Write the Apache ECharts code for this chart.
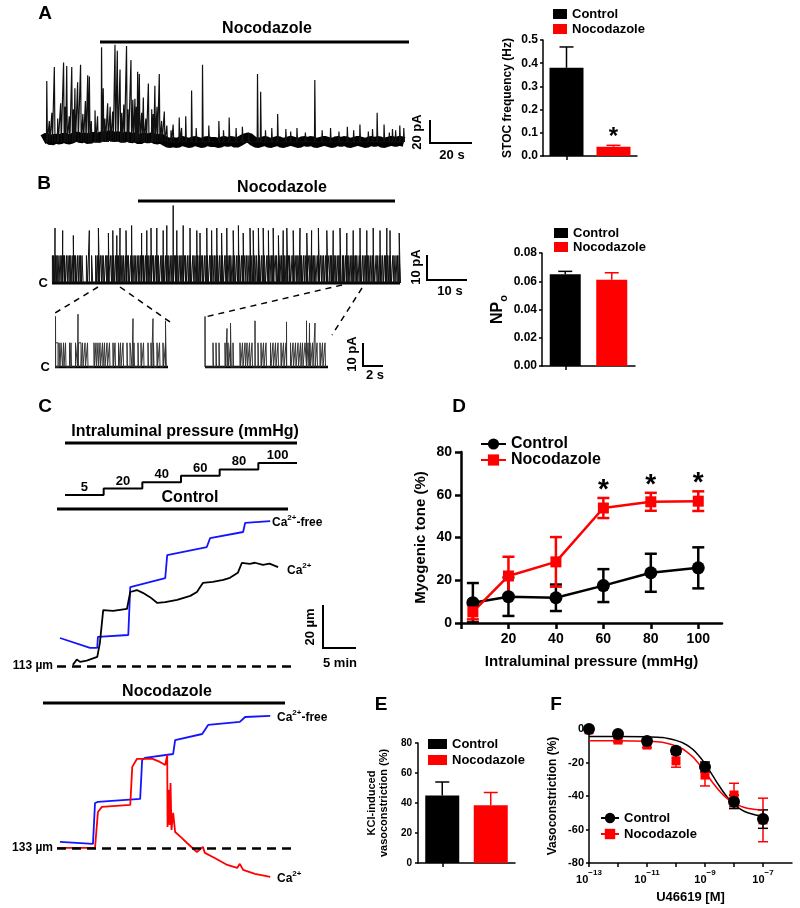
<!DOCTYPE html>
<html>
<head>
<meta charset="utf-8">
<script src="https://cdn.jsdelivr.net/npm/echarts/dist/echarts.min.js"></script>
<style>
html,body{margin:0;padding:0;background:#fff;}
#chart{width:800px;height:908px;}
</style>
</head>
<body>
<div id="chart"></div>
<script>
// ================= DATA =================
const groups = ['Control', 'Nocodazole'];

// ---- Panel A: STOC trace (time s, amplitude pA) ----
const aSpikes = [[1.8,52],[3,18],[4.2,25],[5.4,64],[7,20],[8.4,33],[9.8,68],[10.5,30],[11.3,65],[12.5,22],[13.7,64],[14.5,28],[15.2,46],[16.5,51],[17.9,66],[19,24],[20.2,35],[21.3,57],[22.1,56],[23,18],[24.8,27],[26,22],[27.9,81],[28.7,46],[29.5,20],[30.8,33],[32,30],[33.2,26],[34.3,83],[35.4,78],[36.7,62],[37.5,25],[38.5,32],[39.8,82],[40.5,28],[41.9,70],[42.8,36],[43.8,37],[44.5,30],[45.1,60],[45.9,58],[47,25],[47.8,38],[49,20],[50.2,50],[51.8,28],[52.5,24],[53.3,48],[54.3,30],[55.4,58],[56.5,18],[57.8,26],[59,14],[61,10],[62,15],[64.9,21],[66,12],[68,22],[70.8,44],[73,12],[76.0,66],[79,14],[83.8,18],[86,10],[88.7,21],[92,12],[95,13],[98,8],[102.2,58],[103.7,43],[106,10],[109,12],[111.8,24],[115.7,11],[118,9],[121,12],[125,8],[129.5,53],[133,10],[137,12],[141,9],[145,13],[148,10],[151,15],[155,9],[157,11],[159.2,25],[162.5,15],[165,8],[166.5,11],[168,10],[170,14],[171.9,12]];
const aBaseline = [[0,2],[2,4],[4,1],[6,3],[8,2],[10,4],[12,2],[14,3],[16,5],[18,3],[20,4],[22,2],[24,5],[26,3],[28,5],[30,4],[32,6],[34,4],[36,5],[38,3],[40,5],[42,3],[44,4],[46,2],[48,4],[50,3],[52,4],[54,2],[56,3],[58,1],[60,-1],[62,0],[64,-1],[66,1],[68,0],[70,-1],[72,1],[74,0],[76,-1],[78,1],[80,0],[82,0],[84,-1],[86,1],[88,0],[90,1],[92,-1],[94,1],[96,3],[98,4],[100,1],[102,-1],[104,0],[106,1],[108,-1],[110,0],[112,1],[114,-1],[116,0],[118,1],[120,0],[122,-1],[124,1],[126,0],[128,1],[130,-1],[132,0],[134,1],[136,0],[138,-1],[140,1],[142,0],[144,1],[146,-1],[148,0],[150,1],[152,0],[154,-1],[156,1],[158,0],[160,1],[162,-1],[164,0],[166,1],[168,0],[170,1],[172,0]];
// Panel A bar: STOC frequency (Hz)
const stocFreq = [0.38, 0.04];
const stocSem = [0.09, 0.006];
const stocSig = [false, true];

// ---- Panel B: single-channel traces ----
const bOpenLevel = 11; // pA
const bOpen = [0.1,0.4,0.9,1.2,1.5,2.0,2.3,2.9,3.1,3.6,4.0,4.4,4.7,5.2,5.6,5.9,6.4,6.8,7.1,7.5,8.6,9.9,10.9,11.3,11.6,12.1,12.5,12.8,13.4,13.7,14.0,14.6,15.0,15.4,15.9,16.3,16.6,17.2,17.5,17.9,18.4,18.8,19.1,19.7,20.0,20.5,20.8,21.3,21.7,22.1,22.6,22.9,23.4,23.8,24.2,24.6,25.1,25.4,25.9,26.3,26.6,27.2,27.5,27.9,28.4,28.8,29.2,29.7,30.0,30.6,30.9,31.3,31.8,32.2,32.5,33.1,33.4,33.9,34.3,34.6,35.2,35.5,36.0,36.4,36.8,37.3,37.6,38.1,38.5,38.8,39.4,39.7,40.2,40.6,41.0,41.4,41.9,42.3,42.6,43.2,43.5,44.0,44.4,44.7,45.3,45.6,46.1,46.5,46.9,47.4,47.7,48.2,48.6,49.0,49.5,49.8,50.3,50.7,51.1,51.6,51.9,52.4,52.8,53.1,53.7,54.0,54.5,54.9,55.2,55.8,56.1,56.6,57.0,57.4,57.9,58.2,58.7,59.1,59.4,60.0,60.3,60.8,61.2,61.5,62.1,62.4,62.9,63.3,63.7,64.2,64.5,65.0,65.4,65.7,66.3,66.6,67.1,67.5,67.9,68.4,68.7,69.2,69.6,69.9,70.5,70.8,71.3,71.7,72.0,72.6,72.9,73.4,73.8,74.2,74.7,75.0,75.5,75.9,76.2,76.8,77.1,77.6,78.0,78.4,78.9,79.2,79.7,80.1,80.4,81.0,81.3,81.8,82.2,82.6,83.1,83.4,83.9,84.3,84.6,85.2,85.5,86.0,86.4,86.8];
const bSpikes = [[0.75,22],[2.67,21],[5.33,19],[9.33,21],[11.6,22],[14.1,20],[15.2,21],[16.2,19],[17,22],[18.5,21],[19.9,23],[22.4,20],[23.7,21],[24.75,22],[26.2,22],[27.8,21],[28.7,23],[30.3,31],[31.2,21],[32.8,23],[34.5,22],[36.2,21],[37,20],[38.7,22],[39.9,21],[41.2,22],[42.4,20],[43.7,22],[45.3,21],[46.6,23],[47.8,20],[49.5,22],[50.3,21],[51.6,22],[52.8,22],[54.1,21],[55.3,22],[56.6,19],[57.8,21],[58.7,22],[60.3,21],[62,22],[63.7,20],[64.9,21],[66.6,22],[68.7,21],[70.3,21],[72,22],[73.7,20],[75.3,21],[77,22],[78.7,21],[80.3,22],[82,21],[83.7,22],[84.5,21],[86.8,20]];
// expanded segments: [start s, duration s]
const bZoomLeftOpen = [[0.05,0.25],[0.4,0.1],[0.6,0.15],[0.85,0.05],[1.05,0.05],[1.45,0.05],[1.6,0.05],[2.05,0.2],[2.35,0.25],[2.75,0.05],[3.0,0.05],[3.25,0.05],[3.9,0.05],[4.1,0.05],[4.3,0.05],[4.5,0.05],[4.75,0.05],[4.95,0.05],[5.2,0.05],[5.45,0.05],[5.8,0.05],[6.0,0.05],[6.35,0.05],[6.55,0.05],[6.8,0.05],[7.2,0.05],[7.5,0.2],[7.9,0.05],[8.3,0.05],[8.6,0.05],[8.85,0.05],[9.3,0.05],[9.6,0.05],[9.85,0.05],[10.2,0.05],[10.45,0.05],[10.8,0.05],[11.05,0.05]];
const bZoomLeftSpikes = [[0.05,23],[2.3,24],[7.8,22],[9.8,22],[11.05,21]];
const bZoomRightOpen = [[0.8,0.05],[1.1,0.05],[1.4,0.05],[2.0,0.05],[2.3,0.05],[2.55,0.05],[2.8,0.05],[3.5,0.05],[3.75,0.05],[4.0,0.05],[4.2,0.05],[4.45,0.05],[4.7,0.05],[5.3,0.05],[5.6,0.05],[5.85,0.05],[6.1,0.05],[6.55,0.05],[6.8,0.05],[7.05,0.05],[7.3,0.05],[7.6,0.05],[7.85,0.05],[8.1,0.05],[8.55,0.05],[8.8,0.05],[9.05,0.05],[9.3,0.05],[9.55,0.05],[9.75,0.05],[10.0,0.15],[10.3,0.1],[10.5,0.05],[10.75,0.05],[11.2,0.05],[11.5,0.05],[11.75,0.05],[12.0,0.05]];
const bZoomRightSpikes = [[0.0,23],[2.2,17.5],[2.55,20],[5.0,21],[8.15,20.5],[10.15,21],[10.45,20],[11.0,20]];
// Panel B bar: NPo
const npo = [0.065, 0.061];
const npoSem = [0.002, 0.005];

// ---- Panel C: diameter traces [time min, diameter µm] ----
const pressureSteps = [5, 20, 40, 60, 80, 100];
const cCtrlBase = 113;
const cNocBase = 133;
const cCtrlFree = [[0.45,126],[5.0,121.4],[6.1,121.4],[6.2,126.5],[10.8,127.4],[11.1,149.7],[16.4,153.9],[16.7,164.6],[22.7,168.3],[23.2,172.5],[28.2,175.3],[28.5,179.5],[32.3,180.4]];
const cCtrlCa = [[2.4,113.5],[3.0,116],[3.5,114.9],[4.5,115.5],[6.1,117.2],[6.5,123.7],[7.0,139],[8.5,138.6],[10.6,139.5],[11.1,147.4],[12.1,148.3],[13.0,147],[14.1,145],[15.2,142.3],[16.4,142.7],[18.2,143.7],[20.2,145.6],[21.2,147.4],[22.1,151.6],[23.6,152.1],[25.2,153],[26.2,154],[27.4,156.3],[28.0,160.9],[29.2,160.5],[30.0,161],[31.2,160],[32.2,160.6],[33.5,159]];
const cNocFree = [[0.45,135.8],[5.45,134.9],[5.76,153.9],[6.2,154.4],[12.6,155.8],[12.9,173.9],[13.3,174.9],[17.6,176.7],[17.9,183.2],[22.0,186],[22.9,190.2],[27.7,191.6],[28.5,193.9],[32.3,194.4]];
const cNocCa = [[0,133],[5.76,133],[6.2,149.7],[6.8,152.1],[11.1,153],[11.4,170.7],[12.1,174.4],[14.5,174.4],[15.6,173],[16.4,171.6],[16.7,176.3],[16.75,142.8],[16.9,160],[17.05,143.7],[17.2,163.2],[17.35,141.4],[17.6,149.3],[17.9,140.4],[18.2,140],[18.9,137.7],[19.7,135.3],[21.2,131.1],[22.1,133.5],[22.4,130.7],[23.9,128.3],[25.8,125.1],[27.3,123.7],[27.7,125.6],[28.2,122.8],[30.0,120.9],[32.3,119.5]];

// ---- Panel D: myogenic tone (%) ----
const pressureX = [5, 20, 40, 60, 80, 100];
const toneCtrl = [9.5, 12.3, 11.8, 17.5, 23.5, 25.8];
const toneCtrlSem = [9.2, 9.0, 6.2, 7.7, 8.9, 9.6];
const toneNoc = [5.2, 22.0, 28.6, 53.8, 56.7, 57.0];
const toneNocSem = [3.5, 9.0, 11.6, 4.7, 4.2, 4.6];
const toneSig = [false, false, false, true, true, true];

// ---- Panel E: KCl-induced vasoconstriction (%) ----
const kcl = [45, 38.5];
const kclSem = [9, 8.5];

// ---- Panel F: U46619 concentration-response ----
const logU = [-13, -12, -11, -10, -9, -8, -7];
const vcCtrl = [0, -3, -7.2, -13, -22.7, -43.5, -53.8];
const vcCtrlSem = [0.8, 1, 1.5, 2, 3, 4, 5.5];
const vcNoc = [-0.5, -6.6, -9.6, -19, -27.5, -39.4, -54.3];
const vcNocSem = [1, 1.2, 1.5, 3.8, 6.5, 7, 13];
const fitLogU = [-13, -12, -11, -10, -9.5, -9.25, -9, -8.75, -8.5, -8.25, -8, -7.75, -7.5, -7];
const fitCtrl = [-4.5, -4.5, -4.7, -6.8, -11.1, -15.2, -20.7, -27.4, -34.2, -40.3, -44.9, -48.1, -50.1, -52.1];
const fitNoc = [-7, -7, -7.3, -10.1, -15.4, -20, -25.6, -31.6, -37, -41.3, -44.3, -46.2, -47.4, -48.5];

// ================= HELPERS =================
const FONT = '"Liberation Sans", Arial, Helvetica, sans-serif';
const RED = '#ff0000';
const BLUE = '#1414ff';

function spikePath(spikes, pre, post) {
  const s = spikes.slice().sort((a, b) => a[0] - b[0]);
  const out = [];
  s.forEach(([t, a]) => { out.push([t - pre, 0], [t, a], [t + post, 0]); });
  return out;
}
function channelPath(opens, defDur, level, spikes) {
  const ev = [];
  opens.forEach(o => {
    const t = Array.isArray(o) ? o[0] : o;
    const d = Array.isArray(o) ? o[1] : defDur;
    ev.push({t, pts: [[t, 0], [t, level], [t + d, level], [t + d, 0]]});
  });
  spikes.forEach(([t, a]) => ev.push({t, pts: [[t, 0], [t, a], [t + 0.02, 0]]}));
  ev.sort((a, b) => a.t - b.t);
  const out = [];
  ev.forEach(e => out.push(...e.pts));
  return out;
}
function hiddenAxis(g, min, max) { return {gridIndex: g, type: 'value', min, max, show: false}; }
function axStyle(lw, fs, tickLen, margin) {
  return {
    axisLine: {show: true, onZero: false, lineStyle: {color: '#000', width: lw}},
    axisTick: {show: true, length: tickLen, lineStyle: {color: '#000', width: lw}},
    axisLabel: {color: '#000', fontWeight: 'bold', fontSize: fs, fontFamily: FONT, margin: margin},
    splitLine: {show: false}
  };
}
function catAxis(g, lw) {
  return {gridIndex: g, type: 'category', data: groups,
    axisLine: {show: true, lineStyle: {color: '#000', width: lw}},
    axisTick: {show: true, alignWithLabel: true, length: 4, lineStyle: {color: '#000', width: lw}},
    axisLabel: {show: false}, splitLine: {show: false}};
}
function errSeries(g, data, color, cap, lw, both) {
  return {
    type: 'custom', xAxisIndex: g, yAxisIndex: g, data, silent: true, z: 3,
    renderItem: (params, api) => {
      const x = api.value(0), lo = api.value(1), hi = api.value(2);
      const pt = api.coord([x, hi]), pb = api.coord([x, lo]);
      const st = {stroke: color, lineWidth: lw};
      const ch = [
        {type: 'line', shape: {x1: pt[0], y1: pt[1], x2: pb[0], y2: pb[1]}, style: st},
        {type: 'line', shape: {x1: pt[0] - cap, y1: pt[1], x2: pt[0] + cap, y2: pt[1]}, style: st}
      ];
      if (both) ch.push({type: 'line', shape: {x1: pb[0] - cap, y1: pb[1], x2: pb[0] + cap, y2: pb[1]}, style: st});
      return {type: 'group', children: ch};
    }
  };
}
function barPair(g, prefix, vals, sems, bw) {
  const cols = ['#000', RED];
  const s = [];
  groups.forEach((name, i) => {
    s.push({type: 'bar', name: prefix + name, xAxisIndex: g, yAxisIndex: g,
      data: groups.map((_, j) => j === i ? vals[i] : '-'),
      barWidth: bw, barGap: '-100%', itemStyle: {color: cols[i], opacity: 1}, silent: true});
  });
  groups.forEach((name, i) => {
    s.push(errSeries(g, [[i, vals[i], vals[i] + sems[i]]], cols[i], 7, 1.5, false));
  });
  return s;
}
function txt(x, y, text, size, align, rot) {
  return {type: 'text', x, y, rotation: rot || 0, silent: true,
    style: {text, fill: '#000', fontSize: size, fontWeight: 'bold', fontFamily: FONT,
      textAlign: align || 'center', textVerticalAlign: 'middle'}};
}
function hline(x1, y1, x2, y2, w, dash) {
  return {type: 'line', silent: true, shape: {x1, y1, x2, y2},
    style: {stroke: '#000', lineWidth: w, lineDash: dash || null}};
}
function poly(points, w) {
  return {type: 'polyline', silent: true, shape: {points}, style: {stroke: '#000', lineWidth: w, fill: null}};
}
const caRich = {
  b: {fontSize: 12, fontWeight: 'bold', fontFamily: FONT, lineHeight: 15, verticalAlign: 'bottom'},
  s: {fontSize: 8, fontWeight: 'bold', fontFamily: FONT, lineHeight: 9, verticalAlign: 'top'}
};
function caTxt(x, y, text) {
  return {type: 'text', x, y, silent: true,
    style: {text, rich: caRich, fill: '#000', textAlign: 'left', textVerticalAlign: 'middle'}};
}
const legendFmt = n => n.slice(2);
function legend(names, left, top, iw, ih, gap, fs) {
  return {data: names, left, top, orient: 'vertical', itemWidth: iw, itemHeight: ih, itemGap: gap,
    padding: 0, selectedMode: false, formatter: legendFmt,
    textStyle: {fontSize: fs, fontWeight: 'bold', color: '#000', fontFamily: FONT}};
}
const starLabel = (fs, dist) => ({show: true, position: 'top', distance: dist, formatter: '*',
  fontSize: fs, fontWeight: 'bold', color: '#000', opacity: 1, fontFamily: FONT});

// ================= GRIDS =================
const G = (left, top, width, height) => ({left, top, width, height, containLabel: false, outerBoundsMode: 'none'});
const grids = [
  G(43, 39, 361, 110),      // 0 A trace
  G(543, 40, 94, 116),      // 1 A bars
  G(52, 200.5, 348, 87.5),  // 2 B trace
  G(55, 312, 113, 59.4),    // 3 B zoom left
  G(205, 312, 123, 59.4),   // 4 B zoom right
  G(542, 253, 93, 113),     // 5 B bars
  G(65, 463, 232, 32),      // 6 C staircase
  G(57, 509, 237.6, 163.4), // 7 C control trace
  G(57, 712.5, 237.6, 169.85), // 8 C nocodazole trace
  G(461, 452, 261, 171),    // 9 D
  G(418, 743, 97, 120),     // 10 E
  G(589, 729, 203, 134)     // 11 F
];

const xAxes = [
  hiddenAxis(0, 0, 172),
  catAxis(1, 1.5),
  hiddenAxis(2, 0, 87),
  hiddenAxis(3, 0, 11.3),
  hiddenAxis(4, 0, 12.3),
  catAxis(5, 1.5),
  hiddenAxis(6, 0, pressureSteps.length),
  hiddenAxis(7, 0, 36),
  hiddenAxis(8, 0, 36),
  Object.assign({gridIndex: 9, type: 'value', min: 0, max: 110, interval: 20,
    name: 'Intraluminal pressure (mmHg)', nameLocation: 'middle', nameGap: 31,
    nameTextStyle: {fontSize: 15, fontWeight: 'bold', color: '#000', fontFamily: FONT}},
    axStyle(2.5, 14, 6, 9),
    {axisLabel: {color: '#000', fontWeight: 'bold', fontSize: 14, fontFamily: FONT, margin: 9, showMaxLabel: false,
      formatter: v => (v === 0 || v > 100) ? '' : String(v)}}),
  catAxis(10, 1.5),
  Object.assign({gridIndex: 11, type: 'value', min: -13, max: -6, interval: 1,
    name: 'U46619 [M]', nameLocation: 'middle', nameGap: 28,
    nameTextStyle: {fontSize: 13, fontWeight: 'bold', color: '#000', fontFamily: FONT}},
    axStyle(1.5, 11, 4, 6),
    {axisLabel: {margin: 6, showMaxLabel: false,
      formatter: v => (Math.abs(v) % 2 === 1) ? '{b|10}{s|\u2212' + Math.abs(v) + '}' : '',
      rich: {b: {fontSize: 11, fontWeight: 'bold', fontFamily: FONT, color: '#000', lineHeight: 16, verticalAlign: 'bottom'},
             s: {fontSize: 8, fontWeight: 'bold', fontFamily: FONT, color: '#000', lineHeight: 8, verticalAlign: 'top'}}}})
];

const yAxes = [
  hiddenAxis(0, -6, 88),
  Object.assign({gridIndex: 1, type: 'value', min: 0, max: 0.5, interval: 0.1,
    name: 'STOC frequency (Hz)', nameLocation: 'middle', nameGap: 29,
    nameTextStyle: {fontSize: 12, fontWeight: 'bold', color: '#000', fontFamily: FONT}},
    axStyle(1.5, 12, 3, 5), {axisLabel: {color: '#000', fontWeight: 'bold', fontSize: 12, fontFamily: FONT, margin: 5, formatter: v => v.toFixed(1)}}),
  hiddenAxis(2, -2, 33),
  hiddenAxis(3, -2, 25),
  hiddenAxis(4, -2, 25),
  Object.assign({gridIndex: 5, type: 'value', min: 0, max: 0.08, interval: 0.02,
    name: '{b|NP}{sub|o}', nameLocation: 'middle', nameGap: 30,
    nameTextStyle: {rich: {b: {fontSize: 16, fontWeight: 'bold', fontFamily: FONT, color: '#000', lineHeight: 20, verticalAlign: 'top'},
                           sub: {fontSize: 11, fontWeight: 'bold', fontFamily: FONT, color: '#000', lineHeight: 10, verticalAlign: 'bottom'}}}},
    axStyle(1.5, 12, 3, 5), {axisLabel: {color: '#000', fontWeight: 'bold', fontSize: 12, fontFamily: FONT, margin: 5, formatter: v => v.toFixed(2)}}),
  hiddenAxis(6, 0, pressureSteps.length - 1),
  hiddenAxis(7, 110, 186),
  hiddenAxis(8, 117, 196),
  Object.assign({gridIndex: 9, type: 'value', min: 0, max: 80, interval: 20,
    name: 'Myogenic tone (%)', nameLocation: 'middle', nameGap: 33,
    nameTextStyle: {fontSize: 15, fontWeight: 'bold', color: '#000', fontFamily: FONT}},
    axStyle(2.5, 14, 6, 9)),
  Object.assign({gridIndex: 10, type: 'value', min: 0, max: 80, interval: 20,
    name: 'KCl-induced\nvasoconstriction (%)', nameLocation: 'middle', nameGap: 28,
    nameTextStyle: {fontSize: 11, fontWeight: 'bold', color: '#000', fontFamily: FONT, lineHeight: 12}},
    axStyle(1.5, 10, 3, 6)),
  Object.assign({gridIndex: 11, type: 'value', min: -80, max: 0, interval: 20,
    name: 'Vasoconstriction (%)', nameLocation: 'middle', nameGap: 30,
    nameTextStyle: {fontSize: 12, fontWeight: 'bold', color: '#000', fontFamily: FONT}},
    axStyle(1.5, 11, 3, 5))
];

// ================= SERIES =================
const series = [];
const lineBase = {type: 'line', showSymbol: false, symbol: 'none', silent: true, clip: false, animation: false};

// A trace
series.push(Object.assign({}, lineBase, {xAxisIndex: 0, yAxisIndex: 0, data: aBaseline, lineStyle: {width: 10, color: '#000'}}));
series.push(Object.assign({}, lineBase, {xAxisIndex: 0, yAxisIndex: 0, data: spikePath(aSpikes, 0.15, 0.3), lineStyle: {width: 1.2, color: '#111'}}));
// A bars
series.push(...barPair(1, 'A-', stocFreq, stocSem, 34));
series.push({type: 'scatter', xAxisIndex: 1, yAxisIndex: 1, symbolSize: 0, silent: true, itemStyle: {opacity: 1},
  data: stocFreq.map((v, i) => [i, v + stocSem[i]]).filter((_, i) => stocSig[i]),
  label: starLabel(24, -4)});

// B traces
series.push(Object.assign({}, lineBase, {xAxisIndex: 2, yAxisIndex: 2, data: [[0, 0], [87, 0]], lineStyle: {width: 3, color: '#000'}}));
series.push(Object.assign({}, lineBase, {xAxisIndex: 2, yAxisIndex: 2, data: channelPath(bOpen, 0.28, bOpenLevel, bSpikes), lineStyle: {width: 1, color: '#111'}}));
series.push(Object.assign({}, lineBase, {xAxisIndex: 3, yAxisIndex: 3, data: [[0, 0], [11.3, 0]], lineStyle: {width: 2.5, color: '#000'}}));
series.push(Object.assign({}, lineBase, {xAxisIndex: 3, yAxisIndex: 3, data: channelPath(bZoomLeftOpen, 0.05, bOpenLevel, bZoomLeftSpikes), lineStyle: {width: 1, color: '#333'}}));
series.push(Object.assign({}, lineBase, {xAxisIndex: 4, yAxisIndex: 4, data: [[0, 0], [12.3, 0]], lineStyle: {width: 2.5, color: '#000'}}));
series.push(Object.assign({}, lineBase, {xAxisIndex: 4, yAxisIndex: 4, data: channelPath(bZoomRightOpen, 0.05, bOpenLevel, bZoomRightSpikes), lineStyle: {width: 1, color: '#333'}}));
// B bars
series.push(...barPair(5, 'B-', npo, npoSem, 31));

// C staircase
series.push(Object.assign({}, lineBase, {xAxisIndex: 6, yAxisIndex: 6, step: 'end',
  data: pressureSteps.map((p, i) => [i, i]).concat([[pressureSteps.length, pressureSteps.length - 1]]),
  lineStyle: {width: 2, color: '#000'}}));
series.push({type: 'scatter', xAxisIndex: 6, yAxisIndex: 6, symbolSize: 0, silent: true, itemStyle: {opacity: 1},
  data: pressureSteps.map((p, i) => [i + 0.5, i, p]),
  label: {show: true, position: 'top', distance: 1, formatter: p => p.value[2], fontSize: 13, fontWeight: 'bold', color: '#000', fontFamily: FONT}});
// C traces
const baseMark = (v) => ({silent: true, symbol: 'none', animation: false,
  lineStyle: {type: [9, 6], width: 2.5, color: '#000'},
  label: {show: true, position: 'start', distance: 4, formatter: v + ' \u00b5m', fontSize: 12, fontWeight: 'bold', color: '#000', fontFamily: FONT},
  data: [{yAxis: v}]});
series.push(Object.assign({}, lineBase, {xAxisIndex: 7, yAxisIndex: 7, data: cCtrlFree, lineStyle: {width: 1.8, color: BLUE}}));
series.push(Object.assign({}, lineBase, {xAxisIndex: 7, yAxisIndex: 7, data: cCtrlCa, lineStyle: {width: 1.8, color: '#000'}, markLine: baseMark(cCtrlBase)}));
series.push(Object.assign({}, lineBase, {xAxisIndex: 8, yAxisIndex: 8, data: cNocFree, lineStyle: {width: 1.8, color: BLUE}, markLine: baseMark(cNocBase)}));
series.push(Object.assign({}, lineBase, {xAxisIndex: 8, yAxisIndex: 8, data: cNocCa, lineStyle: {width: 1.8, color: RED}}));

// D
series.push(errSeries(9, pressureX.map((x, i) => [x, toneCtrl[i] - toneCtrlSem[i], toneCtrl[i] + toneCtrlSem[i]]), '#000', 6, 2.5, true));
series.push(errSeries(9, pressureX.map((x, i) => [x, toneNoc[i] - toneNocSem[i], toneNoc[i] + toneNocSem[i]]), RED, 6, 2.5, true));
series.push({type: 'line', name: 'D-Control', xAxisIndex: 9, yAxisIndex: 9, data: pressureX.map((x, i) => [x, toneCtrl[i]]),
  symbol: 'circle', symbolSize: 13, color: '#000', lineStyle: {width: 2.5, color: '#000'}, itemStyle: {color: '#000', opacity: 1}, silent: true, clip: false, z: 4});
series.push({type: 'line', name: 'D-Nocodazole', xAxisIndex: 9, yAxisIndex: 9, data: pressureX.map((x, i) => [x, toneNoc[i]]),
  symbol: 'rect', symbolSize: 11, color: RED, lineStyle: {width: 2.5, color: RED}, itemStyle: {color: RED, opacity: 1}, silent: true, clip: false, z: 4});
series.push({type: 'scatter', xAxisIndex: 9, yAxisIndex: 9, symbolSize: 0, silent: true, itemStyle: {opacity: 1},
  data: pressureX.map((x, i) => [x, toneNoc[i] + toneNocSem[i]]).filter((_, i) => toneSig[i]),
  label: starLabel(28, -6)});

// E
series.push(...barPair(10, 'E-', kcl, kclSem, 34));

// F
series.push(errSeries(11, logU.map((x, i) => [x, vcNoc[i] - vcNocSem[i], vcNoc[i] + vcNocSem[i]]), RED, 5, 1.5, true));
series.push(errSeries(11, logU.map((x, i) => [x, vcCtrl[i] - vcCtrlSem[i], vcCtrl[i] + vcCtrlSem[i]]), '#000', 5, 1.5, true));
series.push({type: 'line', name: 'F-Control', xAxisIndex: 11, yAxisIndex: 11, data: fitLogU.map((x, i) => [x, fitCtrl[i]]),
  symbol: 'circle', showSymbol: false, smooth: true, color: '#000', lineStyle: {width: 1.5, color: '#000'}, itemStyle: {color: '#000', opacity: 1}, silent: true, clip: false});
series.push({type: 'line', name: 'F-Nocodazole', xAxisIndex: 11, yAxisIndex: 11, data: fitLogU.map((x, i) => [x, fitNoc[i]]),
  symbol: 'rect', showSymbol: false, smooth: true, color: RED, lineStyle: {width: 1.5, color: RED}, itemStyle: {color: RED, opacity: 1}, silent: true, clip: false});
series.push({type: 'scatter', xAxisIndex: 11, yAxisIndex: 11, data: logU.map((x, i) => [x, vcNoc[i]]),
  symbol: 'rect', symbolSize: 9, itemStyle: {color: RED, opacity: 1}, silent: true, clip: false, z: 4});
series.push({type: 'scatter', xAxisIndex: 11, yAxisIndex: 11, data: logU.map((x, i) => [x, vcCtrl[i]]),
  symbol: 'circle', symbolSize: 12, itemStyle: {color: '#000', opacity: 1}, silent: true, clip: false, z: 5});

// ================= GRAPHICS (labels, scale bars) =================
const gfx = [
  // panel letters
  txt(45, 14, 'A', 19), txt(44, 184, 'B', 19), txt(45, 407, 'C', 19),
  txt(459, 407, 'D', 19), txt(381, 705, 'E', 19), txt(556, 705, 'F', 19),
  // A
  txt(267, 29, 'Nocodazole', 16), hline(100, 42, 409, 42, 3),
  poly([[430, 120], [430, 143], [472, 143]], 2),
  txt(417, 132, '20 pA', 13, 'center', Math.PI / 2), txt(452, 155, '20 s', 13),
  // B
  txt(282, 188, 'Nocodazole', 16), hline(138, 201, 395, 201, 3),
  txt(48, 283, 'C', 13, 'right'), txt(50, 367, 'C', 13, 'right'),
  poly([[427, 255], [427, 280], [467, 280]], 2),
  txt(416, 267, '10 pA', 13, 'center', Math.PI / 2), txt(450, 291, '10 s', 13),
  poly([[363, 343], [363, 366], [383, 366]], 2),
  txt(352, 354, '10 pA', 13, 'center', Math.PI / 2), txt(375, 375, '2 s', 13),
  hline(98, 287, 55, 313, 1.5, [6, 5]), hline(120, 287, 170, 322, 1.5, [6, 5]),
  hline(342, 285, 205, 317, 1.5, [6, 5]), hline(362, 288, 332, 335, 1.5, [6, 5]),
  // C
  txt(185, 432, 'Intraluminal pressure (mmHg)', 16), hline(65, 443, 297, 443, 3),
  txt(190, 498, 'Control', 16), hline(57, 509, 288, 509, 3),
  caTxt(272, 521, '{b|Ca}{s|2+}{b|-free}'), caTxt(287, 569, '{b|Ca}{s|2+}'),
  poly([[323, 605], [323, 648], [356, 648]], 2),
  txt(310, 627, '20 \u00b5m', 13, 'center', Math.PI / 2), txt(340, 663, '5 min', 13),
  txt(167, 692, 'Nocodazole', 16), hline(43, 703, 285, 703, 3),
  caTxt(277, 716, '{b|Ca}{s|2+}{b|-free}'), caTxt(277, 877, '{b|Ca}{s|2+}')
];

const option = {
  animation: false,
  textStyle: {fontFamily: FONT, fontWeight: 'bold', color: '#000'},
  grid: grids,
  xAxis: xAxes,
  yAxis: yAxes,
  legend: [
    Object.assign(legend(['A-Control', 'A-Nocodazole'], 553, 7.5, 14, 10, 2, 13), {icon: 'rect'}),
    Object.assign(legend(['B-Control', 'B-Nocodazole'], 554, 226.5, 14, 10, 1, 13), {icon: 'rect'}),
    legend(['D-Control', 'D-Nocodazole'], 480, 436, 25, 14, 0, 16),
    Object.assign(legend(['E-Control', 'E-Nocodazole'], 428, 737.5, 19, 10, 3, 13), {icon: 'rect'}),
    legend(['F-Control', 'F-Nocodazole'], 600, 811.5, 18, 13, 3, 13)
  ],
  series,
  graphic: {elements: gfx}
};

const chart = echarts.init(document.getElementById('chart'), null, {renderer: 'canvas'});
chart.setOption(option);
</script>
</body>
</html>
